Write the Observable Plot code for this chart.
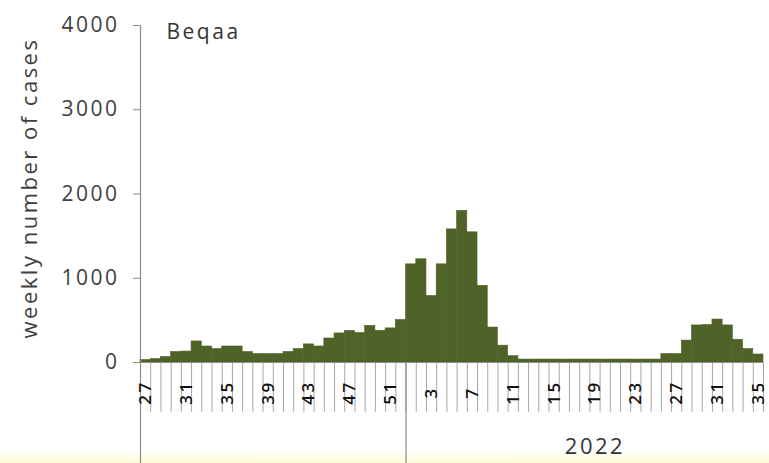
<!DOCTYPE html>
<html>
<head>
<meta charset="utf-8">
<script src="https://cdn.jsdelivr.net/npm/d3@7"></script>
<script src="https://cdn.jsdelivr.net/npm/@observablehq/plot@0.6"></script>
<style>
html, body { margin: 0; padding: 0; background: #fff; }
#wrap { position: relative; width: 769px; height: 463px; overflow: hidden; }
#strip { position: absolute; left: 0; right: 0; bottom: 0; height: 14px; background: linear-gradient(#ffffff, #fffbd9); }
#wrap svg { position: absolute; left: 0; top: 0; }
#wrap svg text { letter-spacing: 2.5px; }
</style>
</head>
<body>
<div id="wrap"><div id="strip"></div></div>
<script>
// Week numbers and weekly case counts
const weeks2021 = [27,28,29,30,31,32,33,34,35,36,37,38,39,40,41,42,43,44,45,46,47,48,49,50,51,52];
const cases2021 = [30,40,65,125,130,250,190,160,190,190,125,100,100,100,125,160,215,190,285,345,375,350,435,375,405,505];
const weeks2022 = [1,2,3,4,5,6,7,8,9,10,11,12,13,14,15,16,17,18,19,20,21,22,23,24,25,26,27,28,29,30,31,32,33,34,35];
const cases2022 = [1165,1225,790,1165,1580,1800,1545,910,415,200,75,35,35,35,35,35,35,35,35,35,35,35,35,35,35,100,100,260,440,445,510,440,270,160,95];
const yTicks = [0,1000,2000,3000,4000];
const tickEvery = 4;
const regionTitle = "Beqaa";
const yLabel = "weekly number of cases";
const yearLabel = "2022";

const rows = [
  ...weeks2021.map((w, k) => ({year: 2021, week: w, value: cases2021[k]})),
  ...weeks2022.map((w, k) => ({year: 2022, week: w, value: cases2022[k]}))
].map((d, i) => ({...d, i}));
const n = rows.length;
const labelRows = rows.filter(d => d.i % tickEvery === 0);
const yearStart = weeks2021.length;
const yearMid = yearStart + 37 / 2; // 2022 block spans 37 weeks in the original figure

const axisGray = "#8c8c8c";

const chart = Plot.plot({
  width: 769,
  height: 463,
  marginLeft: 140,
  marginRight: 6,
  marginTop: 25,
  marginBottom: 101,
  x: {type: "linear", domain: [0, n], axis: null},
  y: {domain: [0, 4000], axis: null},
  style: {background: "none", fontFamily: "'Open Sans', sans-serif", color: "#404040"},
  marks: [
    Plot.rectY(rows, {x1: "i", x2: d => d.i + 1, y: "value", fill: "#4f6228", stroke: "#4f6228", strokeWidth: 0.6}),
    Plot.ruleX(d3.range(n + 1), {y1: 0, y2: -590, stroke: "#a6a6a6", strokeWidth: 1}),
    Plot.ruleX([0, yearStart], {y1: 0, y2: -1300, stroke: axisGray, strokeWidth: 1.2}),
    Plot.ruleY([0], {x1: 0, x2: n, stroke: axisGray, strokeWidth: 1.2}),
    Plot.ruleX([0], {y1: 0, y2: 4000, stroke: axisGray, strokeWidth: 1.2}),
    Plot.axisY({ticks: yTicks, tickFormat: d3.format("d"), tickSize: 7, tickPadding: 14, stroke: axisGray, fill: "#404040", fontSize: 21, label: null}),
    Plot.text(labelRows, {x: d => d.i + 0.5, y: 0, text: d => String(d.week), rotate: -90, textAnchor: "middle", lineAnchor: "middle", dy: 30, fontSize: 17, fontWeight: 600, fill: "#111"}),
    Plot.text([yLabel], {frameAnchor: "left", dx: -111, dy: -6, rotate: -90, textAnchor: "middle", lineAnchor: "middle", fontSize: 22, fill: "#404040"}),
    Plot.text([regionTitle], {frameAnchor: "top-left", dx: 26, dy: 7, textAnchor: "start", lineAnchor: "middle", fontSize: 21, fill: "#333"}),
    Plot.text([yearLabel], {x: yearMid, frameAnchor: "bottom", dy: 84, textAnchor: "middle", lineAnchor: "middle", fontSize: 22, fill: "#333"})
  ]
});
document.getElementById("wrap").appendChild(chart);
</script>
</body>
</html>
